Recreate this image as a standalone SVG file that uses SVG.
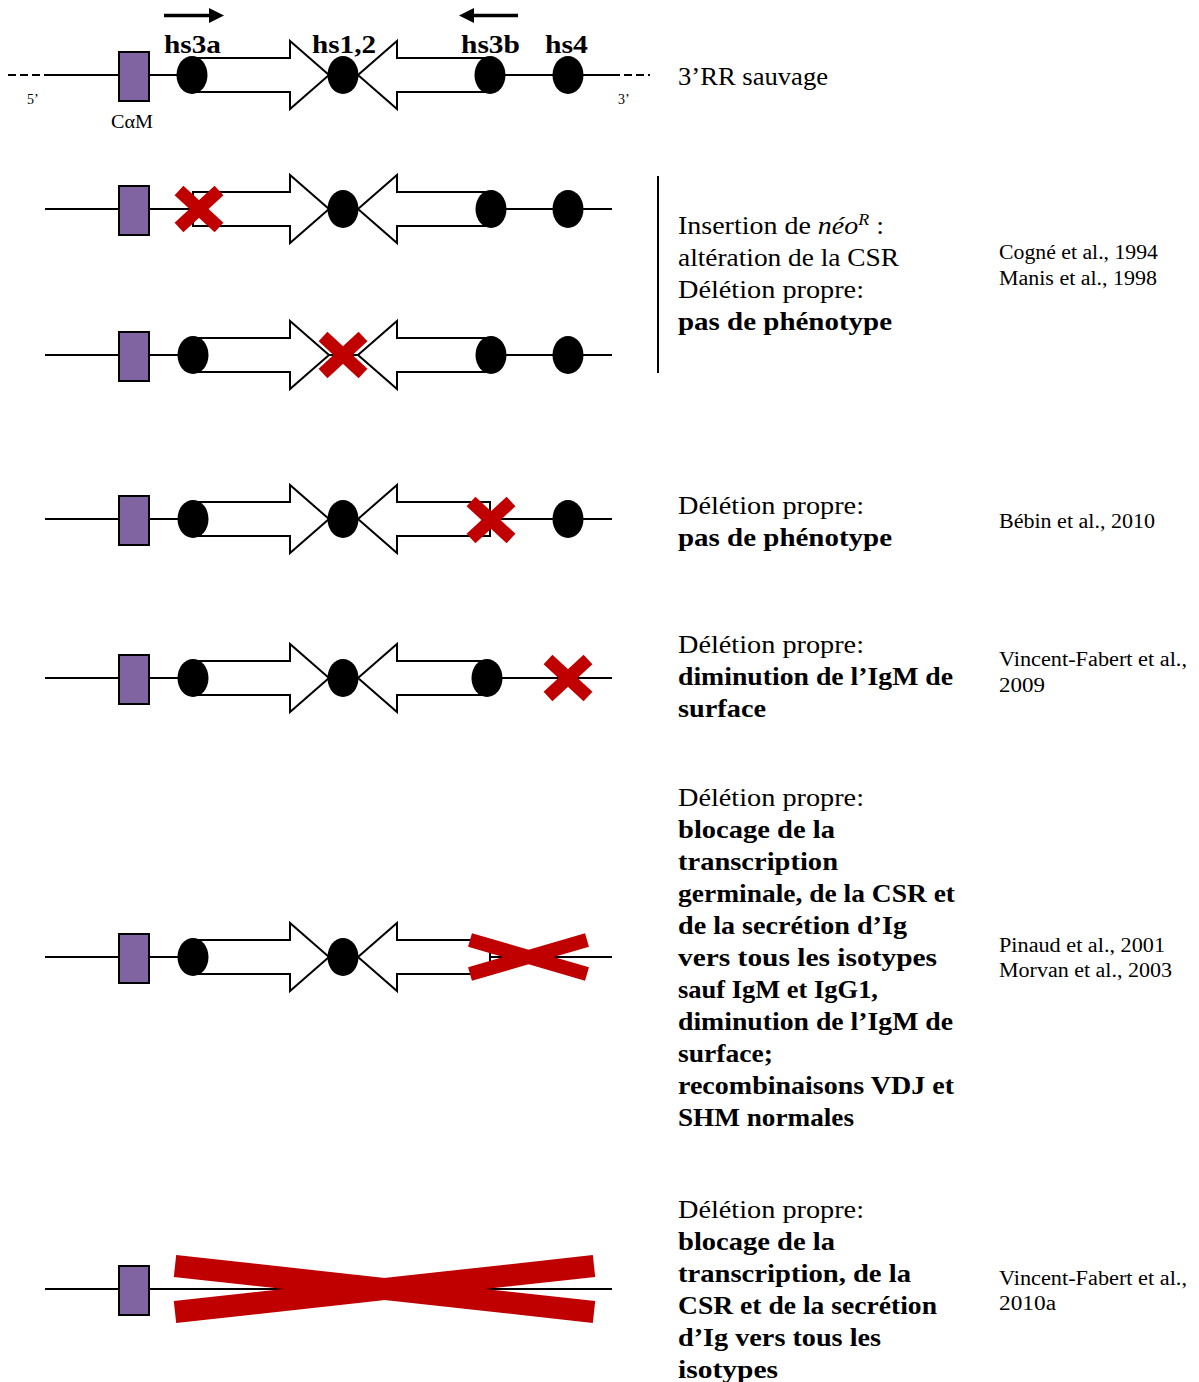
<svg xmlns="http://www.w3.org/2000/svg" xmlns:xlink="http://www.w3.org/1999/xlink" width="1199" height="1382" viewBox="0 0 1199 1382">
  <style>
    .dna { stroke: #000; stroke-width: 2; fill: none; }
    .dash { stroke: #000; stroke-width: 2; fill: none; stroke-dasharray: 8 4; }
    .cam { fill: #8064A2; stroke: #000; stroke-width: 2; }
    .enh { fill: #000; }
    .arr { fill: #fff; stroke: #000; stroke-width: 2; stroke-linejoin: miter; }
    .kill { stroke: #C00000; fill: none; stroke-linecap: butt; }
    .t { font-family: "Liberation Serif", "Times New Roman", serif; font-size: 25px; fill: #000; }
    .b { font-weight: bold; }
    .cite { font-family: "Liberation Serif", "Times New Roman", serif; font-size: 20px; fill: #000; }
    .lbl { font-family: "Liberation Serif", "Times New Roman", serif; font-size: 25px; font-weight: bold; fill: #000; }
    .small { font-family: "Liberation Serif", "Times New Roman", serif; fill: #000; }
  </style>
  <defs>
    <ellipse id="enh" class="enh" rx="15.5" ry="19"/>
    <!-- hs3a -> hs1,2 block arrow, origin at hs3a centre -->
    <polygon id="arrR" class="arr" points="0,-17 97,-17 97,-34 136,0 97,34 97,17 0,17"/>
    <!-- hs3b -> hs1,2 block arrow, origin at its tip -->
    <polygon id="arrL" class="arr" points="0,0 39,-34 39,-17 132,-17 132,17 39,17 39,34"/>
    <rect id="cam" class="cam" x="119" y="-23" width="30" height="49"/>
    <g id="xs" class="kill" stroke-width="13">
      <line x1="-20" y1="-18.5" x2="20" y2="18.5"/>
      <line x1="-20" y1="18.5" x2="20" y2="-18.5"/>
    </g>
  </defs>

  <!-- direction arrows over hs3a and hs3b -->
  <g id="orientation">
    <line x1="164" y1="15.5" x2="211" y2="15.5" stroke="#000" stroke-width="3.5"/>
    <polygon points="209,8 224,15.5 209,23" fill="#000"/>
    <line x1="472" y1="15.5" x2="518" y2="15.5" stroke="#000" stroke-width="3.5"/>
    <polygon points="474,8 459,15.5 474,23" fill="#000"/>
  </g>

  <!-- wild-type 3'RR -->
  <g id="row-wt" transform="translate(0,75)">
    <line class="dash" x1="8" y1="0" x2="44" y2="0"/>
    <line class="dna" x1="44" y1="0" x2="612" y2="0"/>
    <line class="dash" x1="612" y1="0" x2="650" y2="0"/>
    <use xlink:href="#cam"/>
    <use xlink:href="#arrR" x="193"/>
    <use xlink:href="#arrL" x="358"/>
    <use xlink:href="#enh" x="192"/>
    <use xlink:href="#enh" x="343"/>
    <use xlink:href="#enh" x="490"/>
    <use xlink:href="#enh" x="568"/>
  </g>
  <g id="row-wt-labels">
    <text class="lbl" x="164" y="53" textLength="57" lengthAdjust="spacingAndGlyphs">hs3a</text>
    <text class="lbl" x="312" y="53" textLength="64" lengthAdjust="spacingAndGlyphs">hs1,2</text>
    <text class="lbl" x="461" y="53" textLength="59" lengthAdjust="spacingAndGlyphs">hs3b</text>
    <text class="lbl" x="545" y="53" textLength="43" lengthAdjust="spacingAndGlyphs">hs4</text>
    <text class="small" x="27" y="104" font-size="14">5’</text>
    <text class="small" x="618" y="104" font-size="14">3’</text>
    <text class="small" x="111" y="128" font-size="19" textLength="42" lengthAdjust="spacingAndGlyphs">CαM</text>
    <text class="t" x="678" y="85" textLength="150" lengthAdjust="spacingAndGlyphs">3’RR sauvage</text>
  </g>

  <!-- hs3a deleted -->
  <g id="row-hs3a" transform="translate(0,209)">
    <line class="dna" x1="45" y1="0" x2="612" y2="0"/>
    <use xlink:href="#cam"/>
    <use xlink:href="#arrR" x="193"/>
    <use xlink:href="#arrL" x="358"/>
    <use xlink:href="#enh" x="343"/>
    <use xlink:href="#enh" x="491"/>
    <use xlink:href="#enh" x="568"/>
    <use xlink:href="#xs" x="199"/>
  </g>

  <!-- hs1,2 deleted -->
  <g id="row-hs12" transform="translate(0,355)">
    <line class="dna" x1="45" y1="0" x2="612" y2="0"/>
    <use xlink:href="#cam"/>
    <use xlink:href="#arrR" x="193"/>
    <use xlink:href="#arrL" x="358"/>
    <use xlink:href="#enh" x="193"/>
    <use xlink:href="#enh" x="491"/>
    <use xlink:href="#enh" x="568"/>
    <use xlink:href="#xs" x="343"/>
  </g>

  <line id="bracket" x1="658" y1="176" x2="658" y2="373" stroke="#000" stroke-width="2"/>
  <g id="row-hs3a-hs12-text">
    <text class="t" x="678" y="234" textLength="206" lengthAdjust="spacingAndGlyphs">Insertion de <tspan font-style="italic">néo</tspan><tspan font-style="italic" font-size="16" dy="-9">R</tspan><tspan dy="9"> :</tspan></text>
    <text class="t" x="678" y="266" textLength="221" lengthAdjust="spacingAndGlyphs">altération de la CSR</text>
    <text class="t" x="678" y="298" textLength="186" lengthAdjust="spacingAndGlyphs">Délétion propre:</text>
    <text class="t b" x="678" y="330" textLength="214" lengthAdjust="spacingAndGlyphs">pas de phénotype</text>
    <text class="cite" x="999" y="259" textLength="159" lengthAdjust="spacingAndGlyphs">Cogné et al., 1994</text>
    <text class="cite" x="999" y="285" textLength="158" lengthAdjust="spacingAndGlyphs">Manis et al., 1998</text>
  </g>

  <!-- hs3b deleted -->
  <g id="row-hs3b" transform="translate(0,519)">
    <line class="dna" x1="45" y1="0" x2="612" y2="0"/>
    <use xlink:href="#cam"/>
    <use xlink:href="#arrR" x="193"/>
    <use xlink:href="#arrL" x="358"/>
    <use xlink:href="#enh" x="193"/>
    <use xlink:href="#enh" x="343"/>
    <use xlink:href="#enh" x="568"/>
    <use xlink:href="#xs" x="491" y="1"/>
  </g>
  <g id="row-hs3b-text">
    <text class="t" x="678" y="514" textLength="186" lengthAdjust="spacingAndGlyphs">Délétion propre:</text>
    <text class="t b" x="678" y="546" textLength="214" lengthAdjust="spacingAndGlyphs">pas de phénotype</text>
    <text class="cite" x="999" y="528" textLength="156" lengthAdjust="spacingAndGlyphs">Bébin et al., 2010</text>
  </g>

  <!-- hs4 deleted -->
  <g id="row-hs4" transform="translate(0,678)">
    <line class="dna" x1="45" y1="0" x2="612" y2="0"/>
    <use xlink:href="#cam"/>
    <use xlink:href="#arrR" x="193"/>
    <use xlink:href="#arrL" x="358"/>
    <use xlink:href="#enh" x="193"/>
    <use xlink:href="#enh" x="343"/>
    <use xlink:href="#enh" x="487"/>
    <use xlink:href="#xs" x="568"/>
  </g>
  <g id="row-hs4-text">
    <text class="t" x="678" y="653" textLength="186" lengthAdjust="spacingAndGlyphs">Délétion propre:</text>
    <text class="t b" x="678" y="685" textLength="275" lengthAdjust="spacingAndGlyphs">diminution de l’IgM de</text>
    <text class="t b" x="678" y="717" textLength="88" lengthAdjust="spacingAndGlyphs">surface</text>
    <text class="cite" x="999" y="666" textLength="188" lengthAdjust="spacingAndGlyphs">Vincent-Fabert et al.,</text>
    <text class="cite" x="999" y="692" textLength="46" lengthAdjust="spacingAndGlyphs">2009</text>
  </g>

  <!-- hs3b + hs4 deleted -->
  <g id="row-hs3b-hs4" transform="translate(0,957)">
    <line class="dna" x1="45" y1="0" x2="612" y2="0"/>
    <use xlink:href="#cam"/>
    <use xlink:href="#arrR" x="193"/>
    <use xlink:href="#arrL" x="358"/>
    <use xlink:href="#enh" x="193"/>
    <use xlink:href="#enh" x="343"/>
    <g class="kill" stroke-width="14">
      <line x1="470" y1="-17" x2="587" y2="17"/>
      <line x1="470" y1="17" x2="587" y2="-17"/>
    </g>
  </g>
  <g id="row-hs3b-hs4-text">
    <text class="t" x="678" y="806" textLength="186" lengthAdjust="spacingAndGlyphs">Délétion propre:</text>
    <text class="t b" x="678" y="838" textLength="157" lengthAdjust="spacingAndGlyphs">blocage de la</text>
    <text class="t b" x="678" y="870" textLength="160" lengthAdjust="spacingAndGlyphs">transcription</text>
    <text class="t b" x="678" y="902" textLength="277" lengthAdjust="spacingAndGlyphs">germinale, de la CSR et</text>
    <text class="t b" x="678" y="934" textLength="229" lengthAdjust="spacingAndGlyphs">de la secrétion d’Ig</text>
    <text class="t b" x="678" y="966" textLength="259" lengthAdjust="spacingAndGlyphs">vers tous les isotypes</text>
    <text class="t b" x="678" y="998" textLength="200" lengthAdjust="spacingAndGlyphs">sauf IgM et IgG1,</text>
    <text class="t b" x="678" y="1030" textLength="275" lengthAdjust="spacingAndGlyphs">diminution de l’IgM de</text>
    <text class="t b" x="678" y="1062" textLength="95" lengthAdjust="spacingAndGlyphs">surface;</text>
    <text class="t b" x="678" y="1094" textLength="276" lengthAdjust="spacingAndGlyphs">recombinaisons VDJ et</text>
    <text class="t b" x="678" y="1126" textLength="176" lengthAdjust="spacingAndGlyphs">SHM normales</text>
    <text class="cite" x="999" y="952" textLength="166" lengthAdjust="spacingAndGlyphs">Pinaud et al., 2001</text>
    <text class="cite" x="999" y="977" textLength="173" lengthAdjust="spacingAndGlyphs">Morvan et al., 2003</text>
  </g>

  <!-- whole 3'RR deleted -->
  <g id="row-3rr" transform="translate(0,1289)">
    <line class="dna" x1="45" y1="0" x2="612" y2="0"/>
    <use xlink:href="#cam"/>
    <g class="kill" stroke-width="22">
      <line x1="175" y1="-23" x2="594" y2="23"/>
      <line x1="175" y1="23" x2="594" y2="-23"/>
    </g>
  </g>
  <g id="row-3rr-text">
    <text class="t" x="678" y="1218" textLength="186" lengthAdjust="spacingAndGlyphs">Délétion propre:</text>
    <text class="t b" x="678" y="1250" textLength="157" lengthAdjust="spacingAndGlyphs">blocage de la</text>
    <text class="t b" x="678" y="1282" textLength="233" lengthAdjust="spacingAndGlyphs">transcription, de la</text>
    <text class="t b" x="678" y="1314" textLength="259" lengthAdjust="spacingAndGlyphs">CSR et de la secrétion</text>
    <text class="t b" x="678" y="1346" textLength="203" lengthAdjust="spacingAndGlyphs">d’Ig vers tous les</text>
    <text class="t b" x="678" y="1378" textLength="100" lengthAdjust="spacingAndGlyphs">isotypes</text>
    <text class="cite" x="999" y="1285" textLength="188" lengthAdjust="spacingAndGlyphs">Vincent-Fabert et al.,</text>
    <text class="cite" x="999" y="1310" textLength="57" lengthAdjust="spacingAndGlyphs">2010a</text>
  </g>
</svg>
